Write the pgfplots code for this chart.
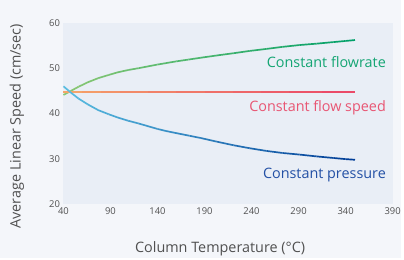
\documentclass[border=0pt]{standalone}
\usepackage{pgfplots}
\pgfplotsset{compat=1.18}
\usepackage{fontspec}
\setmainfont{Open Sans}
\definecolor{outerbg}{RGB}{244,246,250}
\definecolor{innerbg}{RGB}{233,238,246}
\definecolor{ticktxt}{RGB}{80,80,80}
\definecolor{cfr}{RGB}{20,165,115}
\definecolor{cfs}{RGB}{232,85,115}
\definecolor{cpr}{RGB}{35,80,165}
\definecolor{fsA}{RGB}{245,165,105}
\definecolor{fsB}{RGB}{235,75,105}
\begin{document}
\begin{tikzpicture}
\fill[outerbg] (-64pt,-54pt) rectangle (340pt,206pt);
\begin{axis}[
  at={(0pt,0pt)}, anchor=south west,
  scale only axis, width=332pt, height=183pt,
  xmin=40, xmax=390, ymin=20, ymax=60,
  xtick={40,90,...,390}, ytick={20,30,...,60},
  axis background/.style={fill=innerbg},
  axis line style={draw=none}, tick style={draw=none},
  ticklabel style={font=\fontsize{9.5}{11}\selectfont, text=ticktxt},
  /pgf/number format/assume math mode=true,
  xlabel={Column Temperature (°C)},
  ylabel={Average Linear Speed (cm/sec)},
  label style={font=\fontsize{14.5}{16}\selectfont, text=ticktxt},
  xlabel style={at={(axis description cs:0.476,0)}, anchor=center, yshift=-45pt},
  ylabel style={at={(axis description cs:-0.1416,0.43)}, anchor=center},
  point meta min=40, point meta max=350,
  clip=false,
]
\addplot[mesh, point meta=x, line width=1.7pt,
  colormap={greens}{rgb255=(140,200,115) rgb255=(0,160,105)}]
  coordinates {(40,44.1) (48,45.0) (56,45.9) (66,46.9) (77,47.8) (88,48.5) (98,49.1) (109,49.6) (120,50.0) (130,50.4) (140,50.8) (150,51.15) (160,51.5) (173,51.9) (186,52.3) (203,52.8) (221,53.3) (238,53.8) (256,54.25) (273,54.7) (291,55.1) (309,55.4) (327,55.75) (340,56.0) (350,56.2)};
\addplot[line width=2pt, color=fsA!100!fsB] coordinates {(40,44.8) (60,44.8)};
\addplot[line width=2pt, color=fsA!90!fsB] coordinates {(60,44.8) (80,44.8)};
\addplot[line width=2pt, color=fsA!80!fsB] coordinates {(80,44.8) (100,44.8)};
\addplot[line width=2pt, color=fsA!70!fsB] coordinates {(100,44.8) (130,44.8)};
\addplot[line width=2pt, color=fsA!60!fsB] coordinates {(130,44.8) (160,44.8)};
\addplot[line width=2pt, color=fsA!50!fsB] coordinates {(160,44.8) (190,44.8)};
\addplot[line width=2pt, color=fsA!40!fsB] coordinates {(190,44.8) (220,44.8)};
\addplot[line width=2pt, color=fsA!30!fsB] coordinates {(220,44.8) (250,44.8)};
\addplot[line width=2pt, color=fsA!20!fsB] coordinates {(250,44.8) (280,44.8)};
\addplot[line width=2pt, color=fsA!10!fsB] coordinates {(280,44.8) (315,44.8)};
\addplot[line width=2pt, color=fsA!0!fsB] coordinates {(315,44.8) (350,44.8)};
\addplot[mesh, point meta=x, line width=1.7pt,
  colormap={blues}{rgb255=(90,190,225) rgb255=(0,60,150)}]
  coordinates {(40,46.0) (48,44.6) (56,43.3) (66,42.0) (77,40.75) (88,39.85) (98,39.1) (109,38.4) (120,37.8) (130,37.2) (140,36.6) (150,36.1) (162,35.6) (174,35.1) (186,34.6) (203,33.8) (221,33.0) (238,32.35) (256,31.75) (273,31.3) (291,30.95) (309,30.55) (327,30.2) (340,29.95) (350,29.8)};
\node[anchor=east, text=cfr, font=\fontsize{14.5}{16}\selectfont, inner sep=0pt] at (axis cs:383,51.4) {Constant flowrate};
\node[anchor=east, text=cfs, font=\fontsize{14.5}{16}\selectfont, inner sep=0pt] at (axis cs:383,41.2) {Constant flow speed};
\node[anchor=east, text=cpr, font=\fontsize{14.5}{16}\selectfont, inner sep=0pt] at (axis cs:383,26.4) {Constant pressure};
\end{axis}
\end{tikzpicture}
\end{document}
